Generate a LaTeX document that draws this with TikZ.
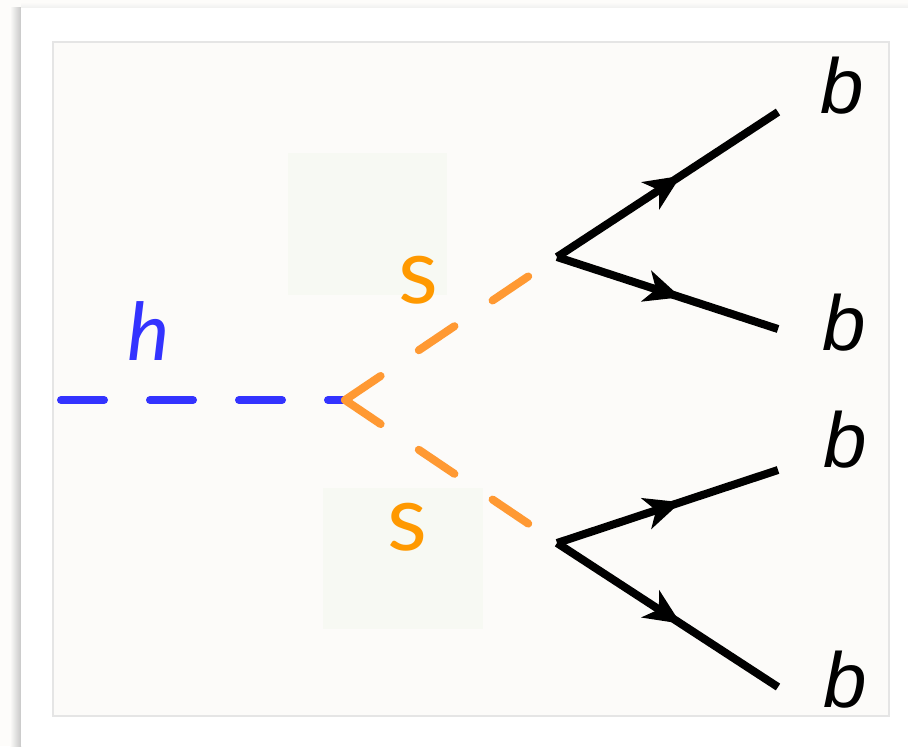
\documentclass[tikz,border=0pt]{standalone}
\usepackage{fontspec}
\usetikzlibrary{arrows.meta,decorations.markings}
\newfontfamily\quarkfont{Liberation Sans}
\newfontfamily\scalarfont{Lato}
\definecolor{higgsblue}{RGB}{51,51,255}
\definecolor{scalarline}{RGB}{255,153,51}
\definecolor{scalartext}{RGB}{255,153,0}
\definecolor{pagefill}{RGB}{253,252,250}
\definecolor{panelfill}{RGB}{252,251,249}
\definecolor{boxfill}{RGB}{247,249,243}
\begin{document}
\begin{tikzpicture}[x = 0.5pt,
  y = -0.5pt,
  scalar/.style = {dash pattern=on 21.5pt off 23pt, line width=4pt, line cap=round},
  fermion/.style = {line width=4pt, postaction={decorate},
    decoration={markings, mark=at position 0.56 with
      {\arrow{Stealth[length=18pt,width=16pt,inset=5pt]}}}},
  quark/.style = {font=\quarkfont\itshape\fontsize{39}{39}\selectfont, anchor=base, inner sep=0pt},
  scalarlabel/.style = {font=\scalarfont\fontsize{46}{46}\selectfont, anchor=base, inner sep=0pt}]

  \useasboundingbox (0,0) rectangle (908,746);

  % frame
  \fill[pagefill] (0,0) rectangle (908,746);
  \shade[left color=pagefill, right color=black!22] (10,7) rectangle (21,746);
  \shade[top color=pagefill, bottom color=black!6] (21,2) rectangle (908,8);
  \fill[white] (21,8) rectangle (908,746);
  \filldraw[fill=panelfill, draw=black!10, line width=1pt] (53,42) rectangle (889,716);

  % boxes behind the labels
  \fill[boxfill] (288,153) rectangle (447,295);
  \fill[boxfill] (323,488) rectangle (483,629);

  % vertices
  \coordinate (hstart) at (61,400);
  \coordinate (hvert) at (345,400);
  \coordinate (svert1) at (557,257);
  \coordinate (svert2) at (557,543);
  \coordinate (bend1) at (778,112);
  \coordinate (bend2) at (778,329);
  \coordinate (bend3) at (778,470);
  \coordinate (bend4) at (778,687);

  % higgs
  \draw[scalar, color=higgsblue] (hstart) -- (hvert);
  \node[scalarlabel, font=\scalarfont\itshape\fontsize{40}{40}\selectfont, color=higgsblue]
  (hlab) at (149,360) {h};

  % scalars
  \draw[scalar, color=scalarline] (hvert) -- (svert1);
  \draw[scalar, color=scalarline] (hvert) -- (svert2);
  \node[scalarlabel, color=scalartext] (slab1) at (418,303) {s};
  \node[scalarlabel, color=scalartext] (slab2) at (407,550) {s};

  % quarks
  \draw[fermion] (svert1) -- (bend1);
  \draw[fermion] (svert1) -- (bend2);
  \draw[fermion] (svert2) -- (bend3);
  \draw[fermion] (svert2) -- (bend4);
  \foreach \i/\x/\y in {1/842/113,2/844/350,3/845/467,4/845/707}
  \node[quark] (blab\i) at (\x,\y) {b};
\end{tikzpicture}
\end{document}
